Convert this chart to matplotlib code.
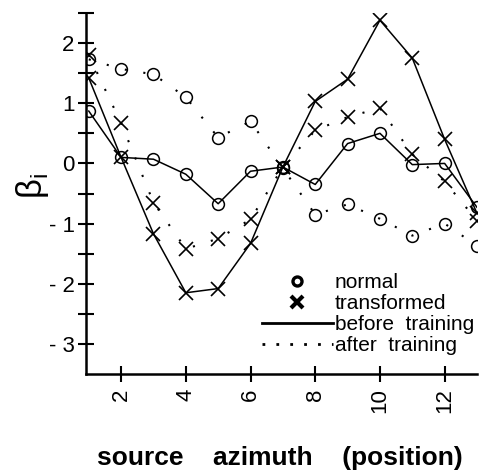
import numpy as np
import matplotlib.pyplot as plt
from matplotlib.lines import Line2D
from matplotlib.ticker import FixedLocator

plt.rcParams['font.family'] = ['Liberation Sans', 'DejaVu Sans']
plt.rcParams['mathtext.fontset'] = 'custom'
plt.rcParams['mathtext.rm'] = 'Liberation Sans'

# source azimuth positions
positions = np.arange(1, 14)

# beta_i values
normal_before = [0.87, 0.10, 0.07, -0.18, -0.67, -0.13, -0.06, -0.35, 0.33, 0.50, -0.02, 0.00, -0.73]
trans_before = [1.42, 0.10, -1.17, -2.15, -2.08, -1.33, -0.06, 1.03, 1.40, 2.38, 1.75, 0.40, -0.83]
normal_after = [1.73, 1.57, 1.48, 1.10, 0.43, 0.70, -0.08, -0.85, -0.68, -0.92, -1.20, -1.00, -1.37]
trans_after = [1.80, 0.67, -0.65, -1.42, -1.25, -0.93, -0.06, 0.55, 0.77, 0.92, 0.15, -0.30, -0.95]

xticks = [2, 4, 6, 8, 10, 12]
yticks = [-3, -2, -1, 0, 1, 2]
ytick_labels = ['- 3', '- 2', '- 1', '0', '1', '2']

fig = plt.figure(figsize=(4.85, 4.74), dpi=100)
ax = fig.add_axes([86.5 / 485, 100 / 474, 390.5 / 485, 361 / 474])

dotted = (0, (1, 8))
circ = dict(marker='o', markersize=8.5, markerfacecolor='none', markeredgecolor='black', markeredgewidth=1.1)
cross = dict(marker='x', markersize=9.5, markeredgecolor='black', markeredgewidth=1.2)

ax.plot(positions, normal_before, color='black', linewidth=1.1, **circ)
ax.plot(positions, trans_before, color='black', linewidth=1.1, **cross)
ax.plot(positions, normal_after, color='black', linewidth=1.5, linestyle=dotted, **circ)
ax.plot(positions, trans_after, color='black', linewidth=1.5, linestyle=dotted, **cross)

ax.set_xlim(0.93, 13.0)
ax.set_ylim(-3.5, 2.5)

for s in ['top', 'right']:
    ax.spines[s].set_visible(False)
for s in ['left', 'bottom']:
    ax.spines[s].set_linewidth(1.8)

ax.xaxis.set_major_locator(FixedLocator(xticks))
ax.set_xticklabels([str(t) for t in xticks], rotation=90, fontsize=16)
ax.yaxis.set_major_locator(FixedLocator(yticks))
ax.set_yticklabels(ytick_labels, fontsize=16)
ax.yaxis.set_minor_locator(FixedLocator([-2.5, -1.5, -0.5, 0.5, 1.5, 2.5]))
ax.tick_params(axis='both', which='both', direction='inout', width=1.5, length=11)
ax.tick_params(axis='y', which='major', pad=3)
ax.tick_params(axis='x', which='major', pad=5)

ax.set_ylabel('β$_{\\mathrm{i}}$', fontsize=25)
ax.yaxis.set_label_coords(-0.09, 0.52)
ax.set_xlabel('source    azimuth    (position)', fontsize=19, fontweight='bold')
ax.xaxis.set_label_coords(0.495, -0.20)

handles = [
    Line2D([], [], linestyle='none', marker='o', markersize=6.5, markerfacecolor='none',
           markeredgecolor='black', markeredgewidth=2.4),
    Line2D([], [], linestyle='none', marker='x', markersize=8.5, markeredgecolor='black',
           markeredgewidth=3),
    Line2D([], [], color='black', linewidth=2),
    Line2D([], [], color='black', linewidth=2, linestyle=(0, (1, 4))),
]
labels = ['normal', 'transformed', 'before  training', 'after  training']
fig.legend(handles, labels, loc='upper left', bbox_to_anchor=(262 / 485, 1 - 273 / 474),
           frameon=False, fontsize=15, handlelength=3.4, handletextpad=0.1,
           labelspacing=0.1, borderpad=0, borderaxespad=0)

fig.savefig('out.png', dpi=100)
